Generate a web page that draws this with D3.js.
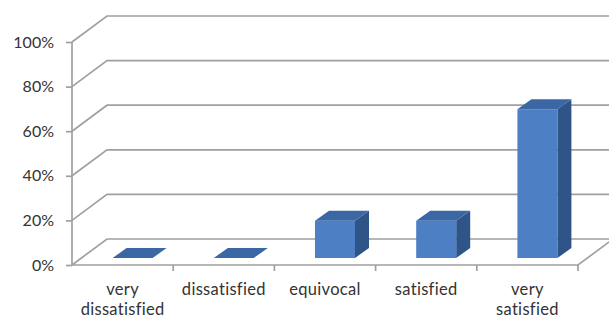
<!DOCTYPE html>
<html>
<head>
<meta charset="utf-8">
<script src="https://cdn.jsdelivr.net/npm/d3@7"></script>
<style>
  html, body { margin: 0; padding: 0; background: #fff; }
  svg { display: block; }
  text { font-family: Lato, "Open Sans", sans-serif; fill: #333; }
</style>
</head>
<body>
<svg id="chart" width="609" height="320"></svg>
<script>
// Survey satisfaction shares
const categories = ["very dissatisfied", "dissatisfied", "equivocal", "satisfied", "very satisfied"];
const labelLines = [["very", "dissatisfied"], ["dissatisfied"], ["equivocal"], ["satisfied"], ["very", "satisfied"]];
const shares = [0, 0, 0.167, 0.167, 0.667];
const yTicks = [0, 0.2, 0.4, 0.6, 0.8, 1.0];

const W = 609, H = 320;
const svg = d3.select("#chart");

// Oblique 3D projection: wall depth and bar depth offsets
const depth = { dx: 35, dy: -26 };
const barOff = { dx: 10, dy: -7 };
const barDepth = { dx: 14, dy: -10 };

const x = d3.scaleBand().domain(categories).range([72, 578]).paddingInner(0).paddingOuter(0);
const y = d3.scaleLinear().domain([0, 1]).range([265, 42]);

const gridColor = "#a0a0a0";

// Back wall and side wall gridlines
const grid = svg.append("g").attr("fill", "none").attr("stroke", gridColor).attr("stroke-width", 1.7);
yTicks.forEach(v => {
  const yy = y(v);
  grid.append("path")
    .attr("d", `M${x.range()[0]},${yy} L${x.range()[0] + depth.dx},${yy + depth.dy} L${W + 10},${yy + depth.dy}`);
});

// Floor: front edge and right diagonal
const x1 = x.range()[1];
grid.append("path")
  .attr("d", `M${x.range()[0]},${y(0)} L${x1},${y(0)} L${x1 + depth.dx},${y(0) + depth.dy}`);

// Category boundary ticks
categories.forEach(c => {
  const tx = x(c) + x.bandwidth();
  grid.append("line").attr("x1", tx).attr("x2", tx).attr("y1", y(0)).attr("y2", y(0) + 6);
});

// Value axis
const yAxis = d3.axisLeft(y).tickValues(yTicks).tickFormat(d3.format(".0%")).tickSize(6).tickSizeOuter(0).tickPadding(12);
const ag = svg.append("g").attr("transform", `translate(${x.range()[0]},0)`).call(yAxis);
ag.selectAll("path, line").attr("stroke", gridColor).attr("stroke-width", 1.7);
ag.selectAll("text").attr("font-size", 16).attr("fill", "#333")
  .style("font-family", "Lato, 'Open Sans', sans-serif");
ag.select(".domain").attr("d", `M0,${y(0)}V${y(1)}`);

// Bars drawn as oblique boxes
const barW = 40;
const colors = { front: "#4c7fc4", top: "#3b67a5", side: "#2f5488" };
const bars = svg.append("g");
categories.forEach((c, i) => {
  const v = shares[i];
  const x0 = x(c) + (x.bandwidth() - barW) / 2 + barOff.dx;
  const yb = y(0) + barOff.dy;
  const yt = y(v) + barOff.dy;
  const g = bars.append("g");
  if (v > 0) {
    g.append("path").attr("fill", colors.side)
      .attr("d", `M${x0 + barW},${yt} L${x0 + barW + barDepth.dx},${yt + barDepth.dy} L${x0 + barW + barDepth.dx},${yb + barDepth.dy} L${x0 + barW},${yb} Z`);
    g.append("rect").attr("fill", colors.front)
      .attr("x", x0).attr("y", yt).attr("width", barW).attr("height", yb - yt);
  }
  g.append("path").attr("fill", colors.top)
    .attr("d", `M${x0},${yt} L${x0 + barDepth.dx},${yt + barDepth.dy} L${x0 + barW + barDepth.dx},${yt + barDepth.dy} L${x0 + barW},${yt} Z`);
});

// Category labels
const lg = svg.append("g").attr("text-anchor", "middle").attr("font-size", 16.5).attr("letter-spacing", 0.3);
categories.forEach((c, i) => {
  const cx = x(c) + x.bandwidth() / 2;
  const t = lg.append("text").attr("x", cx).attr("y", 295);
  labelLines[i].forEach((ln, j) => {
    t.append("tspan").attr("x", cx).attr("dy", j === 0 ? 0 : 20).text(ln);
  });
});
</script>
</body>
</html>
